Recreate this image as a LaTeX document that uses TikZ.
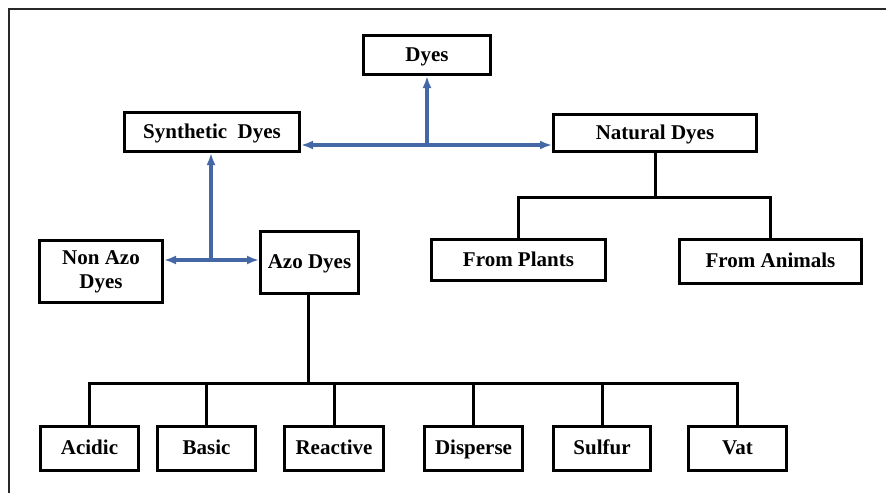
\documentclass[tikz,border=0pt]{standalone}
\usepackage{fontspec}
\setmainfont{Liberation Serif}
\usetikzlibrary{arrows.meta}
\definecolor{linkblue}{RGB}{68,104,166}
\definecolor{framegray}{RGB}{40,40,40}
\tikzset{
  box/.style={draw=black, line width=3pt, rectangle, inner sep=0pt,
    font=\bfseries\fontsize{21}{24}\selectfont, align=center, fill=white},
  oneline/.style={text height=12pt, text depth=0pt},
  tree/.style={draw=black, line width=3pt, line join=miter},
  bluelink/.style={draw=linkblue, line width=4.5pt,
    arrows={-Latex[length=12pt,width=9pt]}},
  bluelinks/.style={draw=linkblue, line width=4.5pt,
    arrows={Latex[length=12pt,width=9pt]-Latex[length=12pt,width=9pt]}},
}
\begin{document}
\begin{tikzpicture}[x=1pt,y=-1pt]
\useasboundingbox (0,0) rectangle (886,493);
\fill[white] (0,0) rectangle (886,493);
% outer frame: top and left edges only
\draw[framegray, line width=2.2pt] (9,493) -- (9,9) -- (886,9);

% boxes
\node[box, oneline, minimum width=127pt, minimum height=39pt] (dyes) at (427,55) {Dyes};
\node[box, oneline, minimum width=175pt, minimum height=39pt] (synth) at (212,132) {Synthetic\ \ Dyes};
\node[box, oneline, minimum width=203pt, minimum height=37pt] (natural) at (655,133) {Natural Dyes};
\node[box, oneline, minimum width=174pt, minimum height=41pt] (plants) at (518.5,260) {From Plants};
\node[box, oneline, minimum width=182pt, minimum height=44pt] (animals) at (770.5,261.5) {From Animals};
\node[box, minimum width=123pt, minimum height=62pt] (nonazo) at (101,271.5) {Non Azo\\Dyes};
\node[box, oneline, minimum width=98pt, minimum height=62pt] (azo) at (309.5,262.5) {Azo Dyes};
\node[box, oneline, minimum width=98pt, minimum height=44pt] (acidic) at (89.5,448.5) {Acidic};
\node[box, oneline, minimum width=98pt, minimum height=44pt] (basic) at (206.5,448.5) {Basic};
\node[box, oneline, minimum width=99pt, minimum height=44pt] (reactive) at (334,448.5) {Reactive};
\node[box, oneline, minimum width=98pt, minimum height=44pt] (disperse) at (473.5,448.5) {Disperse};
\node[box, oneline, minimum width=97pt, minimum height=44pt] (sulfur) at (602,448.5) {Sulfur};
\node[box, oneline, minimum width=98pt, minimum height=44pt] (vat) at (737.5,448.5) {Vat};

% junction points
\coordinate (hub) at (427,145);
\coordinate (hubleft) at (211,260);
\coordinate (nbus) at (655,197);
\coordinate (abus) at (308,383);

% blue links
\draw[bluelinks] (synth.east |- hub) -- (natural.west |- hub);
\draw[bluelink] (hub) -- (dyes.south -| hub);
\draw[bluelinks] (nonazo.east |- hubleft) -- (azo.west |- hubleft);
\draw[bluelink] (hubleft) -- (synth.south -| hubleft);

% natural dyes tree
\draw[tree] (natural.south) -- (nbus);
\draw[tree] (plants.north) |- (nbus) -| (animals.north);

% azo dyes tree
\draw[tree] (azo.south -| abus) -- (abus);
\draw[tree] (acidic.north) |- (abus) -| (vat.north);
\draw[tree] (basic.north) -- (basic.north |- abus);
\draw[tree] (reactive.north) -- (reactive.north |- abus);
\draw[tree] (disperse.north) -- (disperse.north |- abus);
\draw[tree] (sulfur.north) -- (sulfur.north |- abus);
\end{tikzpicture}
\end{document}
